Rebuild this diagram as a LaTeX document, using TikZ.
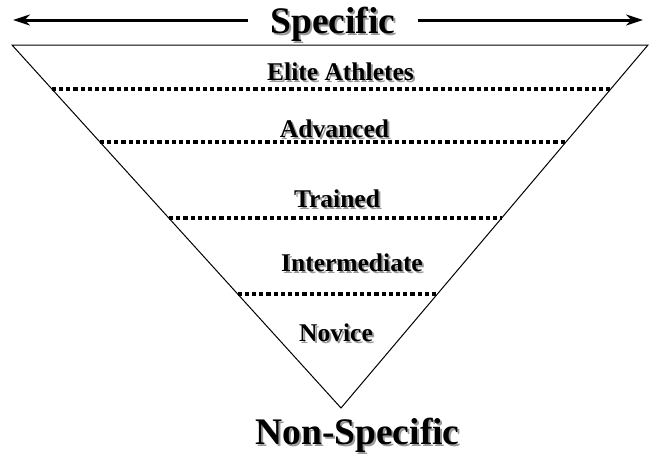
\documentclass[tikz,border=0pt]{standalone}
\usepackage{fontspec}
\setmainfont{Liberation Serif}
\usetikzlibrary{arrows.meta,calc}
\newcommand{\shadowtext}[1]{\makebox[0pt][l]{\hspace{2pt}\raisebox{-2pt}{\textcolor{black!40}{#1}}}#1}
\tikzset{
  level/.style={font=\fontsize{25.5}{28}\selectfont\bfseries, anchor=base, inner sep=0pt},
  big/.style={font=\fontsize{37.5}{40}\selectfont\bfseries, anchor=base, inner sep=0pt},
  divider/.style={line width=4pt, dash pattern=on 4.2pt off 3pt},
  bigarrow/.style={line width=3pt, -{Stealth[length=17pt,width=11pt]}}
}
\begin{document}
\begin{tikzpicture}[x=1pt,y=-1pt]
\useasboundingbox (0,0) rectangle (651,455);
\coordinate (tl) at (12,45);
\coordinate (tr) at (648,45);
\coordinate (apex) at (341,408);
\coordinate (lefttip) at (13,20);
\coordinate (righttip) at (643,20);
\draw[line width=1pt] (tl) -- (tr) -- (apex) -- cycle;
\draw[divider] ($(tl)!0.121!(apex)$) -- ($(tr)!0.121!(apex)$);
\draw[divider] ($(tl)!0.267!(apex)$) -- ($(tr)!0.267!(apex)$);
\draw[divider] ($(tl)!0.477!(apex)$) -- ($(tr)!0.477!(apex)$);
\draw[divider] ($(tl)!0.686!(apex)$) -- ($(tr)!0.686!(apex)$);
\node[big,inner xsep=22pt] (specific) at (333,33) {\shadowtext{Specific}};
\draw[bigarrow] (lefttip -| specific.west) -- (lefttip);
\draw[bigarrow] (righttip -| specific.east) -- (righttip);
\node[big] (nonspecific) at (357.5,444) {\shadowtext{Non-Specific}};
\node[level] (elite) at (340.5,80) {\shadowtext{Elite Athletes}};
\node[level] (advanced) at (334.5,137) {\shadowtext{Advanced}};
\node[level] (trained) at (337,207) {\shadowtext{Trained}};
\node[level] (intermediate) at (352,271) {\shadowtext{Intermediate}};
\node[level] (novice) at (336,341) {\shadowtext{Novice}};
\end{tikzpicture}
\end{document}
